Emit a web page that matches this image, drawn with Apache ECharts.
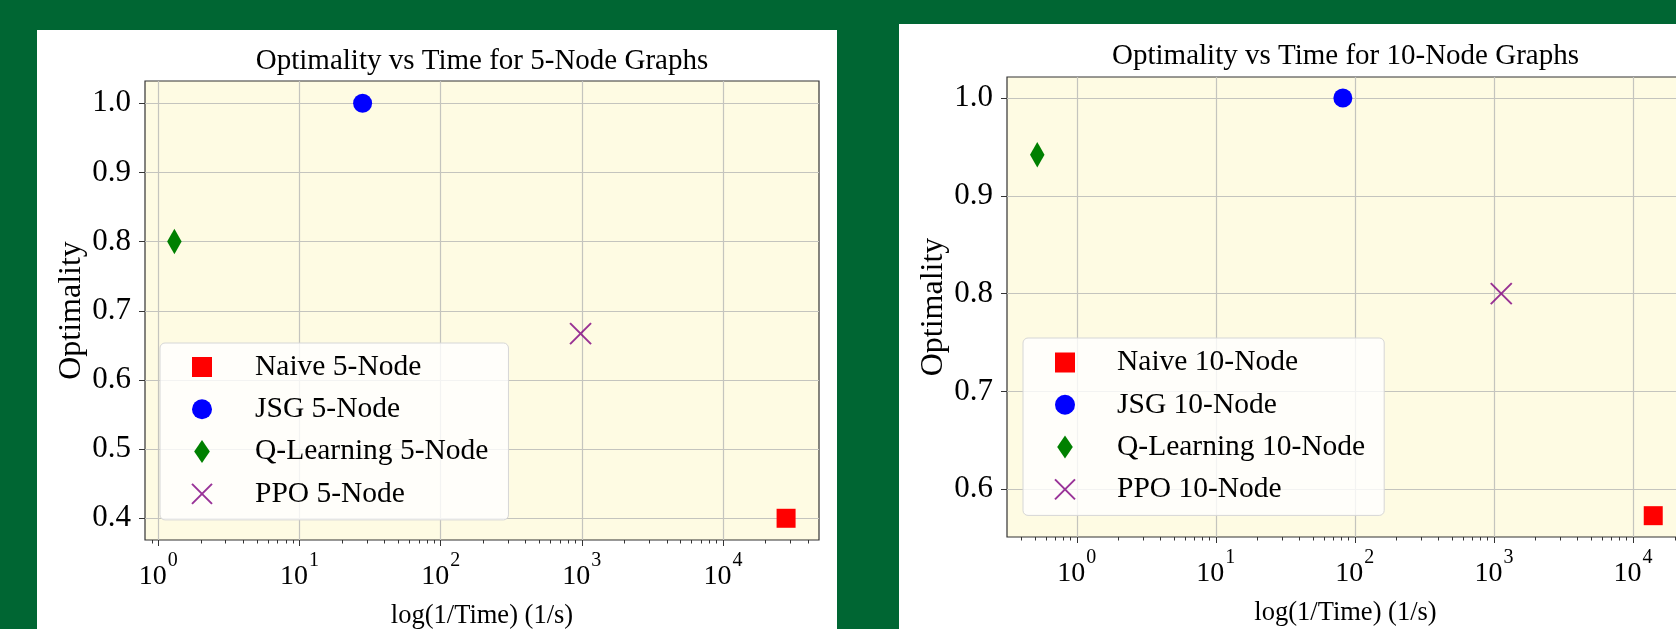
<!DOCTYPE html>
<html><head><meta charset="utf-8">
<script src="https://cdn.jsdelivr.net/npm/echarts@6/dist/echarts.min.js"></script>
<style>
html,body{margin:0;padding:0;background:#006633;overflow:hidden;width:1676px;height:629px;}
.panel{position:absolute;background:#ffffff;}
#c{position:absolute;left:0;top:0;width:1676px;height:629px;}
</style>
</head><body>
<div class="panel" style="left:37px;top:30px;width:800px;height:620px;"></div>
<div class="panel" style="left:899px;top:24px;width:800px;height:620px;"></div>
<div id="c"></div>
<script>
// ---- data ----
const titles = ['Optimality vs Time for 5-Node Graphs', 'Optimality vs Time for 10-Node Graphs'];
const names5 = ['Naive 5-Node', 'JSG 5-Node', 'Q-Learning 5-Node', 'PPO 5-Node'];
const names10 = ['Naive 10-Node', 'JSG 10-Node', 'Q-Learning 10-Node', 'PPO 10-Node'];
// each point: [1/Time (1/s), optimality]
const naive5 = [[28000, 0.40]];
const jsg5 = [[28, 1.00]];
const qlearn5 = [[1.3, 0.80]];
const ppo5 = [[980, 0.667]];
const naive10 = [[14000, 0.573]];
const jsg10 = [[82, 1.00]];
const qlearn10 = [[0.52, 0.942]];
const ppo10 = [[1130, 0.80]];
const xTickValues = [1, 10, 100, 1000, 10000];
const yTicks5 = [0.4, 0.5, 0.6, 0.7, 0.8, 0.9, 1.0];
const yTicks10 = [0.6, 0.7, 0.8, 0.9, 1.0];
const xRange5 = [0.805, 47900];
const xRange10 = [0.315, 23300];
const yRange5 = [0.3686, 1.0322];
const yRange10 = [0.5512, 1.0215];
const xName = 'log(1/Time) (1/s)';
const yName = 'Optimality';

// ---- styling ----
const FONT = 'Liberation Serif';
const X_PATH = 'path://M0,0L20,20M20,0L0,20';
const GRID_COLOR = '#c4c4be';
const AX_COLOR = '#333333';
const kinds = [
  {symbol: 'rect', size: 19, color: '#ff0000', icon: 'path://M0,0H10V10H0Z'},
  {symbol: 'circle', size: 19, color: '#0000ff', icon: 'circle'},
  {symbol: 'diamond', size: [14.5, 25.5], color: '#008000', icon: 'path://M8.5,0L17,12.5L8.5,25L0,12.5Z'},
  {symbol: X_PATH, size: 21, color: 'rgba(0,0,0,0)', border: '#800080', icon: X_PATH}
];
const minorTicks = [];
for (let e = -1; e <= 4; e++) for (let k = 2; k <= 9; k++) minorTicks.push(k * Math.pow(10, e));

const panels = [
  {grid: {left: 145, top: 81, width: 674, height: 459}, names: names5, data: [naive5, jsg5, qlearn5, ppo5],
   xr: xRange5, yr: yRange5, yt: yTicks5, title: {x: 482, y: 61},
   legend: {left: 160, top: 343, padding: [9, 20, 11, 31], textPad: 38}},
  {grid: {left: 1007, top: 77, width: 677, height: 460}, names: names10, data: [naive10, jsg10, qlearn10, ppo10],
   xr: xRange10, yr: yRange10, yt: yTicks10, title: {x: 1345.5, y: 56},
   legend: {left: 1023, top: 338, padding: [9.5, 19, 11, 31], textPad: 37}}
];

const option = {
  backgroundColor: 'transparent',
  animation: false,
  grid: [], xAxis: [], yAxis: [], series: [], legend: [],
  graphic: {elements: []}
};

panels.forEach((p, i) => {
  option.grid.push(Object.assign({show: true, outerBoundsMode: 'none', containLabel: false,
    backgroundColor: '#fefbe3', borderColor: AX_COLOR, borderWidth: 1.2}, p.grid));
  option.xAxis.push({
    gridIndex: i, type: 'log', logBase: 10, min: p.xr[0], max: p.xr[1], position: 'bottom',
    axisLine: {show: false},
    splitLine: {show: true, lineStyle: {color: GRID_COLOR, width: 1.2}},
    axisTick: {show: true, customValues: xTickValues, length: 6, inside: false, lineStyle: {color: AX_COLOR, width: 1}},
    axisLabel: {
      customValues: xTickValues, margin: 11,
      formatter: v => '{b|10}{s|' + Math.round(Math.log10(v)) + '}',
      rich: {
        b: {fontFamily: FONT, fontSize: 28, verticalAlign: 'bottom', color: '#000'},
        s: {fontFamily: FONT, fontSize: 20, padding: [0, 0, 20, 1], verticalAlign: 'top', color: '#000'}
      }
    },
    name: xName, nameLocation: 'middle', nameGap: 63,
    nameTextStyle: {fontFamily: FONT, fontSize: 26.5, color: '#000'}
  });
  option.xAxis.push({
    gridIndex: i, type: 'log', logBase: 10, min: p.xr[0], max: p.xr[1], position: 'bottom',
    axisLine: {show: false}, splitLine: {show: false}, axisLabel: {show: false},
    axisTick: {show: true, customValues: minorTicks, length: 3.5, inside: false, lineStyle: {color: AX_COLOR, width: 1}}
  });
  option.yAxis.push({
    gridIndex: i, type: 'value', min: p.yr[0], max: p.yr[1],
    axisLine: {show: false},
    splitLine: {show: true, lineStyle: {color: GRID_COLOR, width: 1.2}},
    axisTick: {show: true, customValues: p.yt, length: 6, inside: false, lineStyle: {color: AX_COLOR, width: 1}},
    axisLabel: {customValues: p.yt, margin: 14, formatter: v => v.toFixed(1),
      fontFamily: FONT, fontSize: 31, color: '#000'},
    name: yName, nameLocation: 'middle', nameGap: 57,
    nameTextStyle: {fontFamily: FONT, fontSize: 32, color: '#000'}
  });
  p.names.forEach((n, k) => {
    const kd = kinds[k];
    option.series.push({
      type: 'scatter', name: n, xAxisIndex: 2 * i, yAxisIndex: i,
      data: p.data[k], symbol: kd.symbol, symbolSize: kd.size, z: 5,
      itemStyle: kd.border ? {color: kd.color, borderColor: kd.border, borderWidth: 2} : {color: kd.color, opacity: 1},
      emphasis: {disabled: true}
    });
  });
  option.legend.push({
    orient: 'vertical', left: p.legend.left, top: p.legend.top, padding: p.legend.padding,
    itemWidth: 20, itemHeight: 23, itemGap: 12.3, selectedMode: false,
    backgroundColor: 'rgba(255,255,255,0.8)', borderColor: '#d6d6d6', borderWidth: 1, borderRadius: 5,
    formatter: '{t|{name}}',
    textStyle: {fontFamily: FONT, fontSize: 29.5, color: '#000',
      rich: {t: {fontFamily: FONT, fontSize: 29.5, lineHeight: 31, color: '#000', padding: [0, 0, 0, p.legend.textPad]}}},
    data: p.names.map((n, k) => {
      const kd = kinds[k];
      const d = {name: n, icon: kd.icon};
      if (kd.border) d.itemStyle = {color: 'rgba(0,0,0,0)', borderColor: kd.border, borderWidth: 2};
      return d;
    })
  });
  option.graphic.elements.push({
    type: 'text', x: p.title.x, y: p.title.y, z: 100,
    style: {text: titles[i], font: '29px "' + FONT + '"', fill: '#000',
      align: 'center', verticalAlign: 'middle', textAlign: 'center', textVerticalAlign: 'middle'}
  });
});

const chart = echarts.init(document.getElementById('c'), null, {renderer: 'canvas'});
chart.setOption(option);
</script>
</body></html>
